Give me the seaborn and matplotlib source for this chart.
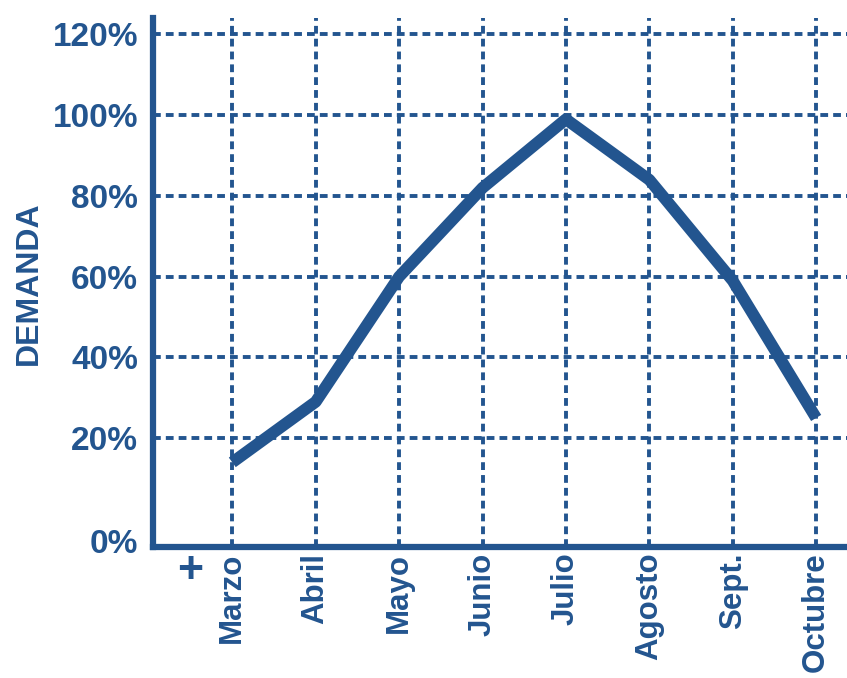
"""
Demanda mensual (%) - curva estacional
"""

import matplotlib
matplotlib.use("Agg")
import matplotlib.pyplot as plt
import matplotlib.transforms as mtransforms
import seaborn as sns
import pandas as pd
from matplotlib.ticker import FuncFormatter

# Datos
meses = ["Marzo", "Abril", "Mayo", "Junio", "Julio", "Agosto", "Sept.", "Octubre"]
demanda = [14, 29, 60, 82, 99, 84, 59, 25]
y_ticks = [0, 20, 40, 60, 80, 100, 120]

AZUL = "#23558f"

sns.set_theme(style="white")
plt.rcParams["font.family"] = ["Liberation Sans", "DejaVu Sans"]

df = pd.DataFrame({"mes": range(len(meses)), "demanda": demanda})

fig = plt.figure(figsize=(8.47, 6.78), dpi=100)
ax = fig.add_axes([0.181, 0.193, 0.819, 0.78])
ax.patch.set_alpha(0)

sns.lineplot(data=df, x="mes", y="demanda", ax=ax, color=AZUL, linewidth=8.5,
             solid_capstyle="butt", solid_joinstyle="round", zorder=3)

# Ejes y rejilla
ax.set_xlim(-0.947, len(meses) - 1 + 0.37)
ax.set_ylim(-7, 124)
ax.set_xticks(range(len(meses)))
ax.set_xticklabels(meses, rotation=90, fontsize=22.5, fontweight="bold", color=AZUL,
                   va="top", ha="center")
ax.set_yticks(y_ticks)
ax.yaxis.set_major_formatter(FuncFormatter(lambda v, _: f"{int(v)}%"))
for lbl in ax.get_yticklabels():
    lbl.set_fontsize(24)
    lbl.set_fontweight("bold")
    lbl.set_color(AZUL)
ax.tick_params(axis="both", length=0)
ax.tick_params(axis="y", pad=11)
ax.tick_params(axis="x", pad=4)

# el 0% queda pegado al eje horizontal
bajar = mtransforms.ScaledTranslation(0, -16 / 72, fig.dpi_scale_trans)
lbl0 = ax.yaxis.get_major_ticks()[0].label1
lbl0.set_transform(lbl0.get_transform() + bajar)

ax.grid(True, color=AZUL, linewidth=2.8, linestyle=(0, (2.0, 1.3)), zorder=1)
ax.yaxis.get_gridlines()[0].set_visible(False)

for side in ["top", "right"]:
    ax.spines[side].set_visible(False)
for side in ["left", "bottom"]:
    ax.spines[side].set_color(AZUL)
    ax.spines[side].set_linewidth(4.5)

ax.set_xlabel("")
ax.set_ylabel("DEMANDA", fontsize=23, fontweight="bold", color=AZUL, labelpad=6)

# signo "+" bajo el eje
ax.text(-0.5, -8, "+", transform=ax.transData, fontsize=32, fontweight="bold",
        color=AZUL, ha="center", va="top")

fig.savefig("out.png", dpi=100)
plt.close(fig)
